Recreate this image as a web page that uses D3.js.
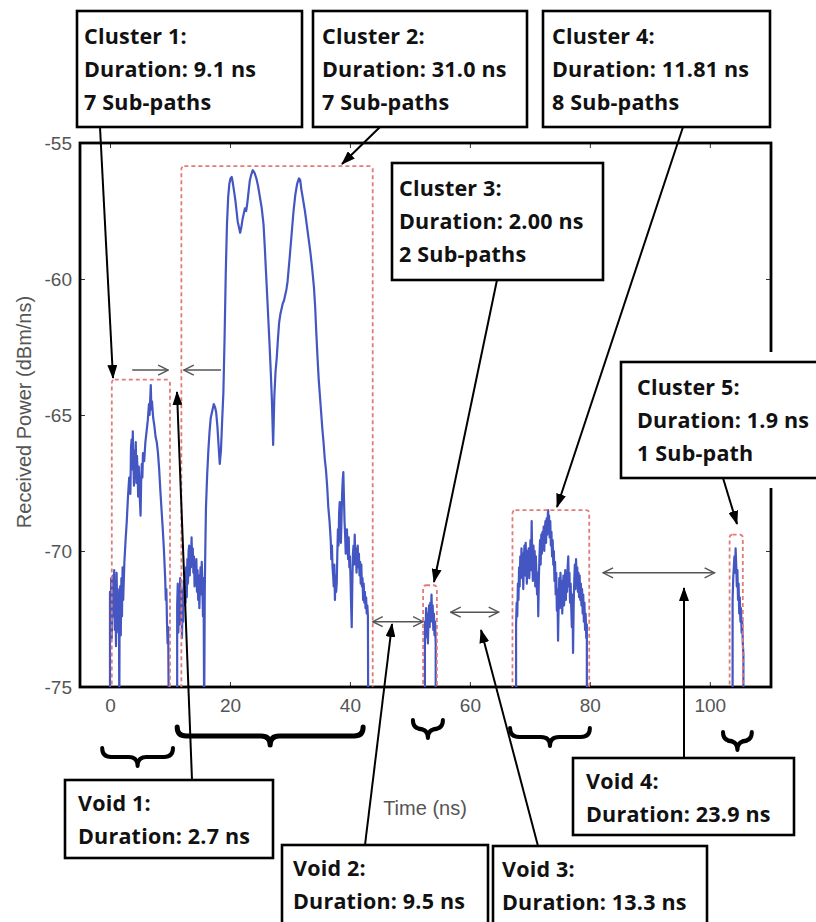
<!DOCTYPE html>
<html>
<head>
<meta charset="utf-8">
<script src="https://cdn.jsdelivr.net/npm/d3@7"></script>
<style>
body { margin: 0; background: #fff; }
.tick text { font-family: "Liberation Sans", Arial, sans-serif; font-size: 19px; fill: #555; }
.tick line { stroke: #333; }
.axislabel { font-family: "Liberation Sans", Arial, sans-serif; font-size: 20px; fill: #555; }
.note text { font-family: "Open Sans", sans-serif; font-weight: 700; font-size: 21.5px; letter-spacing: 0.2px; fill: #111; }
</style>
</head>
<body>
<script>

var width = 816;
var height = 922;

var xTicks = [0, 20, 40, 60, 80, 100];
var yTicks = [-75, -70, -65, -60, -55];

// received power (dBm/ns) vs time (ns), one array per cluster
var cluster1 = [[0.0,-76],[0.0,-71.5],[0.1,-72.8],[0.2,-71.0],[0.3,-73.2],[0.4,-71.6],[0.5,-70.9],[0.6,-72.4],[0.7,-70.7],[0.8,-72.9],[0.9,-71.2],[1.0,-73.5],[1.1,-70.8],[1.2,-72.1],[1.3,-71.4],[1.4,-73.0],[1.5,-72.2],[1.55,-76],[1.6,-72.5],[1.7,-71.3],[1.8,-73.1],[1.9,-71.0],[2.0,-72.4],[2.1,-70.6],[2.2,-71.8],[2.4,-70.4],[2.6,-69.6],[2.8,-68.9],[3.0,-68.0],[3.2,-67.3],[3.4,-67.9],[3.5,-66.2],[3.6,-65.9],[3.7,-67.0],[3.8,-65.6],[3.9,-66.8],[4.0,-67.6],[4.1,-66.3],[4.2,-67.2],[4.3,-66.0],[4.4,-67.5],[4.5,-66.5],[4.6,-67.1],[4.7,-68.0],[4.8,-66.9],[4.9,-67.7],[5.0,-68.2],[5.1,-68.7],[5.2,-67.4],[5.3,-66.8],[5.4,-67.3],[5.5,-66.4],[5.7,-66.7],[5.9,-66.0],[6.1,-65.6],[6.3,-65.2],[6.5,-64.6],[6.6,-65.0],[6.8,-63.9],[6.9,-64.8],[7.0,-64.5],[7.2,-65.1],[7.4,-65.4],[7.6,-65.8],[7.8,-66.0],[8.0,-66.4],[8.2,-67.0],[8.4,-67.8],[8.6,-68.5],[8.8,-69.2],[9.0,-70.0],[9.2,-71.0],[9.3,-71.8],[9.4,-71.4],[9.5,-72.6],[9.6,-73.4],[9.7,-72.8],[9.8,-76]];

var cluster2 = [[11.2,-76],[11.2,-72.0],[11.3,-71.2],[11.4,-73.0],[11.5,-71.6],[11.6,-72.7],[11.7,-71.0],[11.8,-72.3],[11.9,-71.4],[12.0,-73.2],[12.1,-71.8],[12.2,-72.6],[12.3,-71.1],[12.4,-72.0],[12.5,-70.8],[12.6,-71.9],[12.7,-70.6],[12.8,-71.7],[12.9,-70.3],[13.0,-71.2],[13.1,-70.0],[13.2,-69.8],[13.3,-70.9],[13.4,-69.9],[13.5,-70.6],[13.6,-69.5],[13.7,-70.4],[13.8,-69.9],[13.9,-70.8],[14.0,-70.2],[14.1,-71.3],[14.2,-70.5],[14.3,-71.0],[14.4,-70.3],[14.5,-71.5],[14.6,-70.7],[14.7,-71.8],[14.8,-70.9],[14.9,-72.1],[15.0,-71.2],[15.1,-70.6],[15.2,-71.6],[15.3,-70.4],[15.4,-71.3],[15.5,-72.4],[15.6,-71.0],[15.7,-76],[15.8,-71.5],[15.9,-69.8],[16.0,-68.4],[16.2,-67.2],[16.4,-66.3],[16.6,-65.6],[16.8,-65.1],[17.0,-64.9],[17.3,-64.6],[17.5,-64.7],[17.7,-64.9],[17.9,-65.4],[18.1,-66.1],[18.3,-66.8],[18.5,-66.3],[18.7,-65.2],[18.9,-64.2],[19.1,-62.2],[19.3,-59.8],[19.5,-58.0],[19.7,-57.0],[19.9,-56.5],[20.1,-56.3],[20.3,-56.25],[20.5,-56.5],[20.7,-56.8],[20.9,-57.1],[21.1,-57.5],[21.3,-57.9],[21.5,-58.1],[21.7,-58.3],[21.9,-58.1],[22.1,-57.8],[22.3,-57.6],[22.5,-57.4],[22.7,-57.5],[22.9,-57.2],[23.1,-56.8],[23.3,-56.4],[23.5,-56.2],[23.8,-56.0],[24.1,-56.1],[24.4,-56.3],[24.7,-56.6],[25.0,-57.0],[25.3,-57.4],[25.6,-58.0],[25.8,-58.8],[26.0,-59.7],[26.2,-60.6],[26.4,-61.5],[26.6,-62.4],[26.8,-63.4],[27.0,-64.5],[27.2,-66.1],[27.4,-64.3],[27.6,-63.4],[27.8,-62.9],[28.0,-62.2],[28.2,-61.6],[28.4,-61.3],[28.6,-61.1],[28.8,-60.9],[29.0,-60.8],[29.2,-60.6],[29.4,-60.4],[29.6,-60.1],[29.8,-59.6],[30.0,-59.1],[30.3,-58.3],[30.6,-57.5],[30.9,-56.9],[31.2,-56.5],[31.5,-56.3],[31.7,-56.35],[31.9,-56.7],[32.2,-57.1],[32.5,-57.5],[32.8,-58.0],[33.1,-58.5],[33.4,-59.0],[33.7,-59.6],[34.0,-60.3],[34.2,-61.0],[34.4,-62.0],[34.6,-62.9],[34.8,-63.7],[35.0,-64.3],[35.2,-64.9],[35.4,-65.5],[35.6,-66.0],[35.8,-66.6],[36.0,-67.0],[36.2,-67.6],[36.4,-68.4],[36.6,-68.9],[36.8,-69.6],[36.9,-70.3],[37.0,-69.8],[37.1,-70.6],[37.2,-70.9],[37.3,-71.3],[37.4,-70.5],[37.5,-71.8],[37.6,-70.9],[37.7,-71.5],[37.8,-71.2],[37.9,-70.1],[38.0,-69.2],[38.1,-69.8],[38.2,-68.6],[38.3,-68.2],[38.4,-69.1],[38.5,-69.7],[38.6,-68.8],[38.7,-67.9],[38.8,-67.4],[38.9,-67.1],[39.0,-68.0],[39.1,-68.9],[39.2,-69.4],[39.3,-70.1],[39.4,-69.7],[39.5,-69.2],[39.6,-69.8],[39.7,-70.3],[39.8,-69.5],[39.9,-70.6],[40.0,-70.2],[40.1,-71.0],[40.2,-72.0],[40.3,-72.8],[40.4,-71.2],[40.5,-70.1],[40.6,-69.8],[40.7,-70.5],[40.8,-69.4],[40.9,-70.2],[41.0,-69.9],[41.1,-70.8],[41.2,-70.3],[41.3,-69.8],[41.4,-70.6],[41.5,-70.1],[41.6,-70.9],[41.7,-70.4],[41.8,-71.2],[41.9,-70.5],[42.0,-71.3],[42.1,-71.0],[42.2,-71.8],[42.3,-71.2],[42.4,-71.9],[42.5,-71.5],[42.6,-72.1],[42.7,-71.7],[42.8,-72.3],[42.9,-72.0],[43.0,-72.4],[43.05,-76]];

var cluster3 = [[52.5,-76],[52.5,-72.6],[52.6,-73.2],[52.7,-72.1],[52.8,-72.9],[52.9,-72.3],[53.0,-73.4],[53.1,-72.5],[53.2,-72.0],[53.3,-72.8],[53.4,-71.9],[53.5,-72.6],[53.6,-71.6],[53.7,-72.4],[53.8,-72.0],[53.9,-72.9],[54.0,-72.3],[54.1,-73.1],[54.2,-72.6],[54.3,-73.4],[54.3,-76]];

var cluster4 = [[67.7,-76],[67.7,-72.7],[67.8,-71.9],[67.9,-72.4],[68.0,-71.2],[68.1,-71.8],[68.2,-70.6],[68.3,-71.3],[68.4,-70.2],[68.5,-71.0],[68.6,-69.9],[68.7,-70.8],[68.8,-70.1],[68.9,-71.4],[69.0,-70.3],[69.1,-69.8],[69.2,-70.9],[69.3,-69.7],[69.4,-70.5],[69.5,-71.2],[69.6,-70.0],[69.7,-70.8],[69.8,-69.9],[69.9,-71.0],[70.0,-70.4],[70.1,-69.6],[70.2,-70.7],[70.3,-68.9],[70.4,-70.3],[70.5,-71.1],[70.6,-69.8],[70.7,-70.6],[70.8,-70.0],[70.9,-71.3],[71.0,-70.2],[71.1,-70.9],[71.2,-71.6],[71.3,-70.8],[71.4,-72.4],[71.5,-71.0],[71.6,-70.2],[71.7,-69.6],[71.8,-70.5],[71.9,-69.4],[72.0,-70.1],[72.1,-69.3],[72.2,-69.9],[72.3,-69.1],[72.4,-70.0],[72.5,-69.2],[72.6,-68.9],[72.7,-69.7],[72.8,-68.8],[72.9,-69.4],[73.0,-68.6],[73.05,-68.5],[73.1,-69.2],[73.2,-68.7],[73.3,-69.5],[73.4,-68.9],[73.5,-69.8],[73.6,-69.3],[73.7,-70.2],[73.8,-69.6],[73.9,-70.5],[74.0,-70.0],[74.1,-71.1],[74.2,-70.4],[74.3,-71.6],[74.4,-70.8],[74.5,-72.2],[74.6,-71.4],[74.7,-73.3],[74.8,-71.9],[74.9,-71.0],[75.0,-72.1],[75.1,-70.8],[75.2,-71.6],[75.3,-71.1],[75.4,-72.3],[75.5,-71.4],[75.6,-70.9],[75.7,-72.0],[75.8,-71.5],[75.9,-70.7],[76.0,-71.8],[76.1,-70.9],[76.2,-71.5],[76.3,-70.6],[76.4,-70.2],[76.5,-71.3],[76.6,-70.8],[76.7,-71.9],[76.8,-71.2],[76.9,-72.1],[77.0,-72.8],[77.1,-71.6],[77.2,-73.75],[77.3,-72.0],[77.4,-71.1],[77.5,-70.5],[77.6,-71.4],[77.7,-70.3],[77.8,-71.0],[77.9,-70.6],[78.0,-71.5],[78.1,-70.8],[78.2,-71.7],[78.3,-70.9],[78.4,-71.8],[78.5,-71.2],[78.6,-72.0],[78.7,-71.4],[78.8,-72.3],[78.9,-71.6],[79.0,-72.6],[79.1,-71.9],[79.2,-72.9],[79.3,-72.3],[79.4,-73.2],[79.5,-72.7],[79.5,-76]];

var cluster5 = [[103.8,-76],[103.8,-71.8],[103.9,-71.0],[104.0,-70.6],[104.1,-70.2],[104.2,-70.8],[104.3,-69.9],[104.4,-70.5],[104.5,-71.3],[104.6,-70.7],[104.7,-71.8],[104.8,-71.2],[104.9,-72.3],[105.0,-71.7],[105.1,-72.6],[105.2,-72.1],[105.3,-73.0],[105.4,-72.5],[105.5,-73.4],[105.6,-73.8],[105.6,-76]];

// dashed cluster windows: start (ns), end (ns), top (dBm/ns)
var clusterStart = [0.3, 11.9, 52.2, 67.1, 103.3];
var clusterEnd = [10.0, 43.8, 54.5, 79.9, 105.5];
var clusterTop = [-63.7, -55.85, -71.26, -68.5, -69.4];

// void span arrows: from (ns), to (ns), level (dBm/ns), heads
var voidFrom = [3.7, 18.5, 43.8, 56.8, 82.2];
var voidTo = [9.7, 12.3, 52.2, 64.8, 100.8];
var voidLevel = [-63.35, -63.35, -72.6, -72.25, -70.8];
var voidBoth = [false, false, true, true, true];

// braces under the time axis (ns)
var braceFrom = [-1.3, 11.2, 50.5, 66.7, 102.2];
var braceTo = [10.5, 42.2, 55.5, 80.0, 107.0];

var noteText = [
    ["Cluster 1:", "Duration: 9.1 ns", "7 Sub-paths"],
    ["Cluster 2:", "Duration: 31.0 ns", "7 Sub-paths"],
    ["Cluster 3:", "Duration: 2.00 ns", "2 Sub-paths"],
    ["Cluster 4:", "Duration: 11.81 ns", "8 Sub-paths"],
    ["Cluster 5:", "Duration: 1.9 ns", "1 Sub-path"],
    ["Void 1:", "Duration: 2.7 ns"],
    ["Void 2:", "Duration: 9.5 ns"],
    ["Void 3:", "Duration: 13.3 ns"],
    ["Void 4:", "Duration: 23.9 ns"]
];

// layout of the callouts (pixels): box x, y, w, h, text inset, arrow start, arrow tip
var noteLayout = [
    {x: 77, y: 11, w: 225, h: 116, pad: 7, from: [100, 127], to: [113, 378]},
    {x: 313, y: 11, w: 214, h: 116, pad: 9, from: [380, 127], to: [342, 164]},
    {x: 392, y: 163, w: 211, h: 117, pad: 7, from: [497, 280], to: [434, 582]},
    {x: 543, y: 11, w: 227, h: 116, pad: 9, from: [683, 127], to: [557, 507]},
    {x: 621, y: 362, w: 215, h: 116, pad: 16, from: [723, 478], to: [737, 524], mask: 10},
    {x: 65, y: 780, w: 208, h: 78, pad: 13, from: [192, 780], to: [177, 392]},
    {x: 282, y: 845, w: 206, h: 90, pad: 11, from: [365, 845], to: [392, 624]},
    {x: 493, y: 846, w: 214, h: 90, pad: 9, from: [538, 846], to: [481, 630]},
    {x: 573, y: 758, w: 221, h: 77, pad: 13, from: [684, 758], to: [684, 588]}
];
var braceTop = [748, 727, 720, 728, 732];

var svg = d3.select("body")
    .append("svg")
    .attr("width", width)
    .attr("height", height);

var x = d3.scaleLinear().domain([-5, 110.2]).range([80, 771]);
var y = d3.scaleLinear().domain([-75, -55]).range([687, 143]);

var defs = svg.append("defs");
defs.append("clipPath").attr("id", "plotclip")
    .append("rect").attr("x", 80).attr("y", 143).attr("width", 691).attr("height", 544);

defs.append("marker").attr("id", "open")
    .attr("viewBox", "0 0 12 12").attr("refX", 11).attr("refY", 6)
    .attr("markerWidth", 12).attr("markerHeight", 12)
    .attr("markerUnits", "userSpaceOnUse")
    .attr("orient", "auto-start-reverse")
    .append("path").attr("d", "M1,1 L11,6 L1,11")
    .attr("fill", "none").attr("stroke", "#555").attr("stroke-width", 1.4);

defs.append("marker").attr("id", "solid")
    .attr("viewBox", "0 0 14 10").attr("refX", 13).attr("refY", 5)
    .attr("markerWidth", 14).attr("markerHeight", 10)
    .attr("markerUnits", "userSpaceOnUse")
    .attr("orient", "auto")
    .append("path").attr("d", "M0,0 L14,5 L0,10 z").attr("fill", "#000");

// plain hyphen minus like the original labels
var plain = function(d) { return String(d); };

// axes with inward ticks on all four sides
svg.append("g").attr("transform", "translate(0,687)")
    .call(d3.axisBottom(x).tickValues(xTicks).tickFormat(plain).tickSizeInner(-5).tickSizeOuter(0).tickPadding(12));
svg.append("g").attr("transform", "translate(80,0)")
    .call(d3.axisLeft(y).tickValues(yTicks).tickFormat(plain).tickSizeInner(-5).tickSizeOuter(0).tickPadding(8));
svg.append("g").attr("transform", "translate(0,143)")
    .call(d3.axisTop(x).tickValues(xTicks).tickSizeInner(-5).tickSizeOuter(0).tickFormat(""));
svg.append("g").attr("transform", "translate(771,0)")
    .call(d3.axisRight(y).tickValues(yTicks).tickSizeInner(-5).tickSizeOuter(0).tickFormat(""));
svg.selectAll(".domain").remove();

svg.append("rect")
    .attr("x", 80).attr("y", 143).attr("width", 691).attr("height", 544)
    .attr("fill", "none").attr("stroke", "#000").attr("stroke-width", 2.8);

svg.append("text").attr("class", "axislabel")
    .attr("text-anchor", "middle")
    .attr("transform", "translate(31,412) rotate(-90)")
    .text("Received Power (dBm/ns)");
svg.append("text").attr("class", "axislabel")
    .attr("text-anchor", "middle")
    .attr("x", 425).attr("y", 815)
    .text("Time (ns)");

// signal
var line = d3.line()
    .x(function(d) { return x(d[0]); })
    .y(function(d) { return y(d[1]); });

var plot = svg.append("g").attr("clip-path", "url(#plotclip)");
plot.selectAll(".signal")
    .data([cluster1, cluster2, cluster3, cluster4, cluster5])
    .enter().append("path")
    .attr("class", "signal")
    .attr("d", line)
    .attr("fill", "none")
    .attr("stroke", "#4456c2")
    .attr("stroke-width", 2.2)
    .attr("stroke-linejoin", "round");

// dashed cluster windows
plot.selectAll(".window")
    .data(clusterStart)
    .enter().append("rect")
    .attr("class", "window")
    .attr("x", function(d) { return x(d); })
    .attr("y", function(d, i) { return y(clusterTop[i]); })
    .attr("width", function(d, i) { return x(clusterEnd[i]) - x(d); })
    .attr("height", function(d, i) { return y(-75) - y(clusterTop[i]) + 4; })
    .attr("rx", 3)
    .attr("fill", "none")
    .attr("stroke", "#e37a7a")
    .attr("stroke-width", 1.8)
    .attr("stroke-dasharray", "4,3");

// void span arrows
svg.selectAll(".span")
    .data(voidFrom)
    .enter().append("line")
    .attr("class", "span")
    .attr("x1", function(d) { return x(d); })
    .attr("x2", function(d, i) { return x(voidTo[i]); })
    .attr("y1", function(d, i) { return y(voidLevel[i]); })
    .attr("y2", function(d, i) { return y(voidLevel[i]); })
    .attr("stroke", "#555")
    .attr("stroke-width", 1.5)
    .attr("marker-end", "url(#open)")
    .attr("marker-start", function(d, i) { return voidBoth[i] ? "url(#open)" : null; });

// white margins that some callouts carry
noteLayout.forEach(function(n) {
    if (n.mask) {
        svg.append("rect")
            .attr("x", n.x - n.mask).attr("y", n.y - n.mask)
            .attr("width", n.w + 2 * n.mask).attr("height", n.h + 2 * n.mask)
            .attr("fill", "#fff");
    }
});

// callout arrows
svg.selectAll(".pointer")
    .data(noteLayout)
    .enter().append("line")
    .attr("class", "pointer")
    .attr("x1", function(d) { return d.from[0]; })
    .attr("y1", function(d) { return d.from[1]; })
    .attr("x2", function(d) { return d.to[0]; })
    .attr("y2", function(d) { return d.to[1]; })
    .attr("stroke", "#000")
    .attr("stroke-width", 2)
    .attr("marker-end", "url(#solid)");

// braces
function brace(x1, x2, top, h) {
    var m = (x1 + x2) / 2, q = h / 2;
    return "M" + x1 + "," + top +
        " Q" + x1 + "," + (top + q) + " " + (x1 + q) + "," + (top + q) +
        " L" + (m - q) + "," + (top + q) +
        " Q" + m + "," + (top + q) + " " + m + "," + (top + h) +
        " Q" + m + "," + (top + q) + " " + (m + q) + "," + (top + q) +
        " L" + (x2 - q) + "," + (top + q) +
        " Q" + x2 + "," + (top + q) + " " + x2 + "," + top;
}
svg.selectAll(".brace")
    .data(braceFrom)
    .enter().append("path")
    .attr("class", "brace")
    .attr("d", function(d, i) { return brace(x(d), x(braceTo[i]), braceTop[i], 18); })
    .attr("fill", "none")
    .attr("stroke", "#000")
    .attr("stroke-width", function(d, i) { return i == 1 ? 5 : 4; })
    .attr("stroke-linecap", "round")
    .attr("stroke-linejoin", "round");

// callout boxes
var note = svg.selectAll(".note")
    .data(noteLayout)
    .enter().append("g")
    .attr("class", "note")
    .attr("transform", function(d) { return "translate(" + d.x + "," + d.y + ")"; });

note.append("rect")
    .attr("width", function(d) { return d.w; })
    .attr("height", function(d) { return d.h; })
    .attr("fill", "#fff")
    .attr("stroke", "#000")
    .attr("stroke-width", 2.6);

note.each(function(d, i) {
    var g = d3.select(this);
    var offs = noteText[i].length == 3 ? [33, 66, 99] : [31, 64];
    noteText[i].forEach(function(t, k) {
        g.append("text").attr("x", d.pad).attr("y", offs[k]).text(t);
    });
});

</script>
</body>
</html>
